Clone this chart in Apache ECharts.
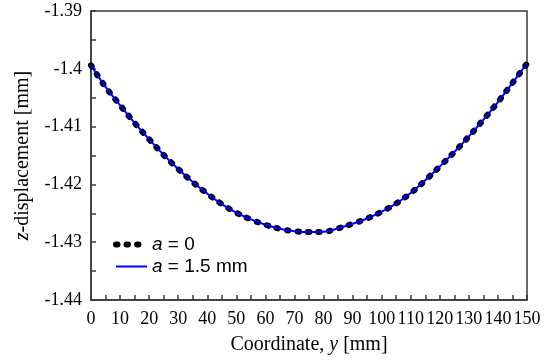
<!DOCTYPE html>
<html>
<head>
<meta charset="utf-8">
<script src="https://cdn.jsdelivr.net/npm/echarts@6/dist/echarts.min.js"></script>
<style>html,body{margin:0;padding:0;background:#fff}#c{width:550px;height:364px}</style>
</head>
<body>
<div id="c"></div>
<script>
var coordY = [0,5,10,15,20,25,30,35,40,45,50,55,60,65,70,75,80,85,90,95,100,105,110,115,120,125,130,135,140,145,150];
var dispA0 = [-1.3994,-1.40314,-1.40630,-1.40936,-1.41220,-1.41490,-1.41734,-1.41960,-1.42160,-1.42340,-1.42490,-1.42606,-1.42699,-1.42768,-1.42810,-1.42825,-1.42820,-1.42760,-1.42682,-1.42590,-1.42472,-1.42330,-1.42150,-1.41930,-1.41690,-1.41440,-1.41170,-1.40880,-1.40575,-1.40245,-1.3991];
var dispA15 = [-1.3994,-1.40314,-1.40630,-1.40936,-1.41220,-1.41490,-1.41734,-1.41960,-1.42160,-1.42340,-1.42490,-1.42606,-1.42699,-1.42768,-1.42810,-1.42825,-1.42820,-1.42760,-1.42682,-1.42590,-1.42472,-1.42330,-1.42150,-1.41930,-1.41690,-1.41440,-1.41170,-1.40880,-1.40575,-1.40245,-1.3991];
var seriesNames = ['a = 0', 'a = 1.5 mm'];

function pairs(xs, ys){ return xs.map(function(x,i){ return [x, ys[i]]; }); }

var chart = echarts.init(document.getElementById('c'), null, {renderer:'canvas'});
var serif = '"Liberation Serif", "Times New Roman", serif';
var sans = '"Liberation Sans", Arial, sans-serif';
var dotStyle = {color:'#000', width:6, type:[1.5,9], cap:'round'};
var hidden = {color:'rgba(0,0,0,0)', borderColor:'rgba(0,0,0,0)', borderWidth:0};
chart.setOption({
  animation:false,
  grid:{left:91, right:23, top:11, bottom:64, show:true, borderColor:'#3a3a3a', borderWidth:1.5},
  legend:{
    orient:'vertical', left:108, top:230, itemWidth:31, itemHeight:14, itemGap:3,
    data:[
      {name:seriesNames[0], itemStyle:hidden, lineStyle:{color:'#000', width:6, type:[1.5,9], cap:'round'}},
      {name:seriesNames[1], itemStyle:hidden, lineStyle:{color:'#0000ff', width:2}}
    ],
    formatter:function(n){ return '{i|a}' + n.substring(1); },
    textStyle:{fontFamily:sans, fontSize:19, color:'#000',
      rich:{i:{fontFamily:sans, fontSize:19, fontStyle:'italic', color:'#000'}}}
  },
  xAxis:{
    type:'value', min:0, max:150, interval:5,
    name:'Coordinate, {i|y} [mm]', nameLocation:'middle', nameGap:35,
    nameTextStyle:{fontFamily:serif, fontSize:20, color:'#000', rich:{i:{fontFamily:serif, fontSize:20, fontStyle:'italic', color:'#000'}}},
    axisLine:{show:true, lineStyle:{color:'#3a3a3a', width:1.5}},
    axisTick:{show:true, inside:true, length:5, lineStyle:{color:'#3a3a3a', width:1.5}},
    splitLine:{show:false},
    axisLabel:{margin:10, fontFamily:serif, fontSize:18, color:'#000',
      formatter:function(v){ return (Math.round(v) % 10 === 0) ? String(Math.round(v)) : ''; }}
  },
  yAxis:{
    type:'value', min:-1.44, max:-1.39, interval:0.005,
    name:'{i|z}-displacement [mm]', nameLocation:'middle', nameGap:58,
    nameTextStyle:{fontFamily:serif, fontSize:20, color:'#000', rich:{i:{fontFamily:serif, fontSize:20, fontStyle:'italic', color:'#000'}}},
    axisLine:{show:true, lineStyle:{color:'#3a3a3a', width:1.5}},
    axisTick:{show:true, inside:true, length:5, lineStyle:{color:'#3a3a3a', width:1.5}},
    splitLine:{show:false},
    axisLabel:{margin:9, fontFamily:serif, fontSize:18, color:'#000',
      formatter:function(v){ var k = Math.round(v*1000); return (k % 10 === 0) ? String(parseFloat((k/1000).toFixed(2))) : ''; }}
  },
  series:[
    {name:seriesNames[0], type:'line', data:pairs(coordY, dispA0), smooth:0.4, symbol:'none', z:2,
      lineStyle:dotStyle, itemStyle:{color:'#000'}},
    {name:seriesNames[1], type:'line', data:pairs(coordY, dispA15), smooth:0.4, symbol:'none', z:3,
      lineStyle:{color:'#0000ff', width:2}, itemStyle:{color:'#0000ff'}}
  ]
});
</script>
</body>
</html>
